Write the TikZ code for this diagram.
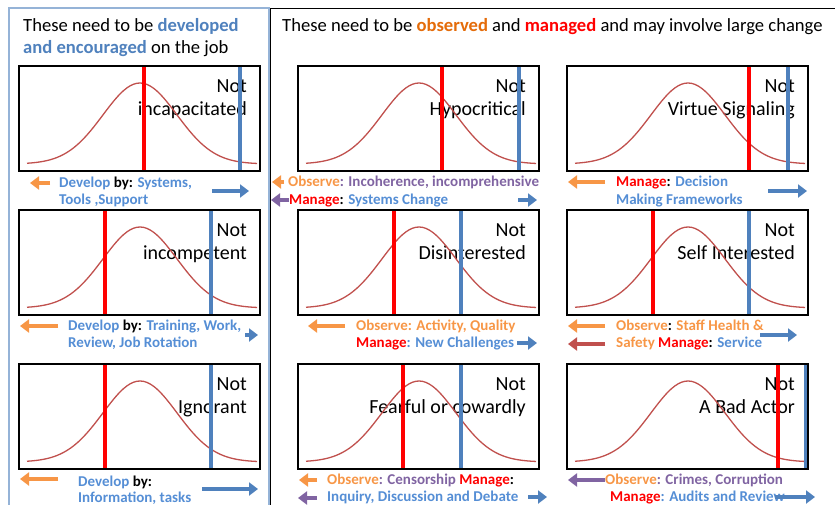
\documentclass[tikz,border=0pt]{standalone}
\usepackage{fontspec}
\setmainfont{Carlito}
\usetikzlibrary{arrows.meta}
\definecolor{capblue}{RGB}{85,142,213}
\definecolor{lineblue}{RGB}{79,129,189}
\definecolor{capor}{RGB}{247,150,70}
\definecolor{hdorange}{RGB}{228,108,10}
\definecolor{capviolet}{RGB}{128,100,162}
\definecolor{curvered}{RGB}{192,80,77}
\definecolor{framebl}{RGB}{149,179,215}
\begin{document}
\begin{tikzpicture}[x=1pt, y=-1pt,
    panel/.style={draw=black, line width=1.2pt},
    curve/.style={draw=curvered, line width=1.3pt},
    redmark/.style={draw=red, line width=3.8pt},
    bluemark/.style={draw=lineblue, line width=3.8pt},
    big/.style={font=\fontsize{20}{24}\selectfont, inner sep=0pt, anchor=base east},
    head/.style={font=\fontsize{18.6}{22}\selectfont, inner sep=0pt, anchor=base west},
    captxt/.style={font=\fontsize{15}{18}\selectfont\bfseries, inner sep=0pt, anchor=base west},
    arr/.style={line width=4pt, -{Triangle[length=9pt, width=13pt]}}]
    \useasboundingbox (0,0) rectangle (835,504);
    \clip (0,0) rectangle (835,504);
    % frames
    \draw[black, line width=1pt] (270,8) rectangle (850,520);
    \draw[framebl, line width=1.5pt] (9,8) rectangle (269,520);
    % headings
    \node (headl1) [head] at (23,31) {These need to be \textcolor{lineblue}{\bfseries developed}};
    \node (headl2) [head] at (23,53) {\textcolor{lineblue}{\bfseries and encouraged} on the job};
    \node (headr) [head] at (282,31) {These need to be \textcolor{hdorange}{\bfseries observed} and \textcolor{red}{\bfseries managed} and may involve large change};
    % panels
    \foreach \px/\py/\rx/\bx/\txt/\nm in {19/66/144/240/incapacitated/a, 298/66/442/519/Hypocritical/b, 567/66/749/788/Virtue Signaling/c,
        19/210/105/211/incompetent/d, 298/210/394/461/Disinterested/e, 567/210/653/749/Self Interested/f,
        19/364/105/211/Ignorant/g, 298/364/403/461/Fearful or cowardly/h, 567/364/778/806/A Bad Actor/i} {
        \pgfmathsetmacro\xa{\px+8}
        \pgfmathsetmacro\xb{\px+238}
        \pgfmathsetmacro\xm{\px+121}
        \node (not\nm) [big] at (\px+228,\py+26) {Not};
        \node (txt\nm) [big] at (\px+228,\py+49) {\txt};
        \draw[curve] plot[domain=\xa:\xb, samples=70, smooth] (\x, {\py+98-81*exp(-((\x-\xm)^2)/2738)});
        \draw[redmark] (\rx,\py) -- (\rx,\py+105);
        \draw[bluemark] (\bx,\py) -- (\bx,\py+105);
        \draw[panel] (\px,\py) rectangle (\px+241,\py+105);
    }
    % captions, top row
    \node (capa1) [captxt] at (59,187) {\textcolor{capblue}{Develop} by: \textcolor{capblue}{Systems,}};
    \node (capa2) [captxt] at (59,204) {\textcolor{capblue}{Tools ,Support}};
    \node (capb1) [captxt] at (288,186) {\textcolor{capor}{Observe}\textcolor{capviolet}{: Incoherence, incomprehensive}};
    \node (capb2) [captxt] at (289,204) {\textcolor{red}{Manage}: \textcolor{capblue}{Systems Change}};
    \node (capc1) [captxt] at (616,186) {\textcolor{red}{Manage}: \textcolor{capblue}{Decision}};
    \node (capc2) [captxt] at (616,204) {\textcolor{capblue}{Making Frameworks}};
    % captions, middle row
    \node (capd1) [captxt] at (68,330) {\textcolor{capblue}{Develop} by: \textcolor{capblue}{Training, Work,}};
    \node (capd2) [captxt] at (68,347) {\textcolor{capblue}{Review, Job Rotation}};
    \node (cape1) [captxt] at (356,330) {\textcolor{capor}{Observe: Activity, Quality}};
    \node (cape2) [captxt] at (356,347) {\textcolor{red}{Manage}\textcolor{capblue}{: New Challenges}};
    \node (capf1) [captxt] at (616,330) {\textcolor{capor}{Observe}: \textcolor{capor}{Staff Health \&}};
    \node (capf2) [captxt] at (616,347) {\textcolor{capor}{Safety} \textcolor{red}{Manage}: \textcolor{capblue}{Service}};
    % captions, bottom row
    \node (capg1) [captxt] at (78,486) {\textcolor{capblue}{Develop} by:};
    \node (capg2) [captxt] at (78,502) {\textcolor{capblue}{Information, tasks}};
    \node (caph1) [captxt] at (327,484) {\textcolor{capor}{Observe}\textcolor{capviolet}{: Censorship} \textcolor{red}{Manage}:};
    \node (caph2) [captxt] at (327,501) {\textcolor{capblue}{Inquiry, Discussion and Debate}};
    \node (capi1) [captxt] at (605,484) {\textcolor{capor}{Observe}\textcolor{capviolet}{: Crimes, Corruption}};
    \node (capi2) [captxt] at (610,501) {\textcolor{red}{Manage}\textcolor{capblue}{: Audits and Review}};
    % arrows
    \draw[arr, capor] (50,183) -- (30,183);
    \draw[arr, lineblue] (212,191) -- (249,191);
    \draw[arr, capor] (284,182) -- (272,182);
    \draw[arr, capviolet] (289,200) -- (271,200);
    \draw[arr, lineblue] (518,200) -- (537,200);
    \draw[arr, capor] (605,182) -- (568,182);
    \draw[arr, lineblue] (768,191) -- (807,191);
    \draw[arr, capor] (58,326) -- (20,326);
    \draw[arr, lineblue] (245,335) -- (258,335);
    \draw[arr, capor] (345,326) -- (308,326);
    \draw[arr, lineblue] (517,343) -- (537,343);
    \draw[arr, capor] (605,326) -- (568,326);
    \draw[arr, curvered] (605,344) -- (568,344);
    \draw[arr, lineblue] (760,335) -- (797,335);
    \draw[arr, capor] (58,479) -- (20,479);
    \draw[arr, lineblue] (202,489) -- (258,489);
    \draw[arr, capor] (317,480) -- (299,480);
    \draw[arr, capviolet] (317,498) -- (298,498);
    \draw[arr, lineblue] (528,497) -- (547,497);
    \draw[arr, capviolet] (605,480) -- (568,480);
    \draw[arr, lineblue] (775,497) -- (815,497);
\end{tikzpicture}
\end{document}
